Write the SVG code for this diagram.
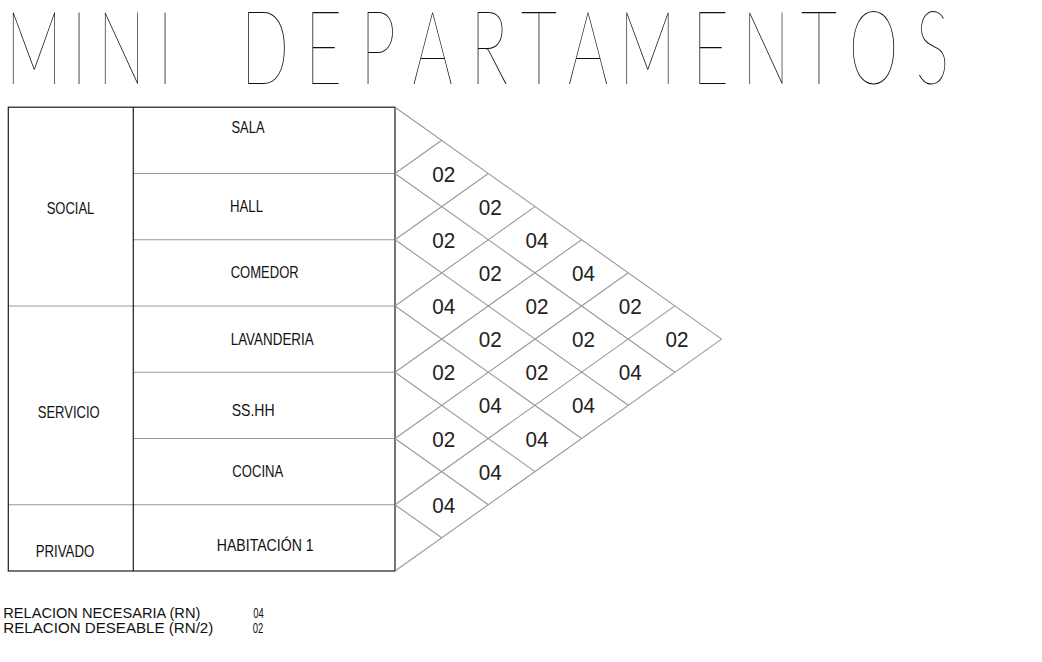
<svg xmlns="http://www.w3.org/2000/svg" width="1042" height="662" viewBox="0 0 1042 662">
<style>
.title{font-family:Lato,Inter,Roboto,"Noto Sans","Liberation Sans",sans-serif;font-weight:100;font-size:103px;fill:#111;text-anchor:middle}
.lbl{font-family:"Liberation Sans",Arial,sans-serif;font-size:17px;fill:#111}
.num{font-family:"Liberation Sans",Arial,sans-serif;font-size:22px;fill:#222;text-anchor:middle}
.leg{font-family:"Liberation Sans",Arial,sans-serif;font-size:15px;fill:#111}
.dark{stroke:#1a1a1a;stroke-width:1.2;fill:none}
.grey{stroke:#999;stroke-width:1.1;fill:none}
</style>
<rect width="1042" height="662" fill="#fff"/>
<g id="title">
<text class="title" transform="scale(0.62 1)" y="84.3" x="54.8 127.4 196.0 266.1 330.6 427.4 521.8 609.7 697.6 788.7 869.4 948.4 1044.4 1146.0 1235.5 1321.0 1408.9 1504.0">MINI DEPARTAMENTOS</text>
</g>
<g id="table">
<g id="zone-social">
<line class="grey" x1="8.3" y1="306" x2="395" y2="306"/>
<text class="lbl" x="46.7" y="214.3" textLength="47.6" lengthAdjust="spacingAndGlyphs">SOCIAL</text>
</g>
<g id="zone-servicio">
<line class="grey" x1="8.3" y1="504.7" x2="395" y2="504.7"/>
<text class="lbl" x="37.7" y="418" textLength="62" lengthAdjust="spacingAndGlyphs">SERVICIO</text>
</g>
<g id="zone-privado">
<text class="lbl" x="35.7" y="556.7" textLength="58.6" lengthAdjust="spacingAndGlyphs">PRIVADO</text>
</g>
<g id="room-sala">
<text class="lbl" x="231.5" y="132.7" textLength="33" lengthAdjust="spacingAndGlyphs">SALA</text>
<line class="grey" x1="133.3" y1="173.5" x2="395" y2="173.5"/>
</g>
<g id="room-hall">
<text class="lbl" x="230" y="211.7" textLength="33" lengthAdjust="spacingAndGlyphs">HALL</text>
<line class="grey" x1="133.3" y1="239.7" x2="395" y2="239.7"/>
</g>
<g id="room-comedor">
<text class="lbl" x="230.7" y="278.3" textLength="68" lengthAdjust="spacingAndGlyphs">COMEDOR</text>
</g>
<g id="room-lavanderia">
<text class="lbl" x="230.7" y="345" textLength="83" lengthAdjust="spacingAndGlyphs">LAVANDERIA</text>
<line class="grey" x1="133.3" y1="372.2" x2="395" y2="372.2"/>
</g>
<g id="room-sshh">
<text class="lbl" x="231.7" y="416" textLength="43" lengthAdjust="spacingAndGlyphs">SS.HH</text>
<line class="grey" x1="133.3" y1="438.5" x2="395" y2="438.5"/>
</g>
<g id="room-cocina">
<text class="lbl" x="232.3" y="477.3" textLength="51" lengthAdjust="spacingAndGlyphs">COCINA</text>
</g>
<g id="room-habitacion">
<text class="lbl" x="216.7" y="550.7" textLength="97" lengthAdjust="spacingAndGlyphs">HABITACIÓN  1</text>
</g>
<rect class="dark" x="8.3" y="107.2" width="386.7" height="463.8"/>
<line class="dark" x1="133.3" y1="107.2" x2="133.3" y2="571"/>
</g>
<g id="connectors" class="grey">
<line x1="395" y1="107.2" x2="721.6" y2="339.1"/>
<line x1="395" y1="173.5" x2="674.9" y2="372.2"/>
<line x1="395" y1="239.7" x2="628.3" y2="405.3"/>
<line x1="395" y1="306" x2="581.6" y2="438.5"/>
<line x1="395" y1="372.2" x2="535" y2="471.6"/>
<line x1="395" y1="438.5" x2="488.3" y2="504.7"/>
<line x1="395" y1="504.7" x2="441.7" y2="537.8"/>
<line x1="395" y1="173.5" x2="441.7" y2="140.3"/>
<line x1="395" y1="239.7" x2="488.3" y2="173.5"/>
<line x1="395" y1="306" x2="535" y2="206.6"/>
<line x1="395" y1="372.2" x2="581.6" y2="239.7"/>
<line x1="395" y1="438.5" x2="628.3" y2="272.8"/>
<line x1="395" y1="504.7" x2="674.9" y2="305.9"/>
<line x1="395" y1="571" x2="721.6" y2="339.1"/>
</g>
<g id="values">
<text class="num" x="443.7" y="181.5" textLength="23" lengthAdjust="spacingAndGlyphs">02</text>
<text class="num" x="443.7" y="247.7" textLength="23" lengthAdjust="spacingAndGlyphs">02</text>
<text class="num" x="443.7" y="314" textLength="23" lengthAdjust="spacingAndGlyphs">04</text>
<text class="num" x="443.7" y="380.2" textLength="23" lengthAdjust="spacingAndGlyphs">02</text>
<text class="num" x="443.7" y="446.5" textLength="23" lengthAdjust="spacingAndGlyphs">02</text>
<text class="num" x="443.7" y="512.7" textLength="23" lengthAdjust="spacingAndGlyphs">04</text>
<text class="num" x="490.3" y="214.6" textLength="23" lengthAdjust="spacingAndGlyphs">02</text>
<text class="num" x="490.3" y="280.8" textLength="23" lengthAdjust="spacingAndGlyphs">02</text>
<text class="num" x="490.3" y="347.1" textLength="23" lengthAdjust="spacingAndGlyphs">02</text>
<text class="num" x="490.3" y="413.3" textLength="23" lengthAdjust="spacingAndGlyphs">04</text>
<text class="num" x="490.3" y="479.6" textLength="23" lengthAdjust="spacingAndGlyphs">04</text>
<text class="num" x="537" y="247.7" textLength="23" lengthAdjust="spacingAndGlyphs">04</text>
<text class="num" x="537" y="314" textLength="23" lengthAdjust="spacingAndGlyphs">02</text>
<text class="num" x="537" y="380.2" textLength="23" lengthAdjust="spacingAndGlyphs">02</text>
<text class="num" x="537" y="446.5" textLength="23" lengthAdjust="spacingAndGlyphs">04</text>
<text class="num" x="583.6" y="280.8" textLength="23" lengthAdjust="spacingAndGlyphs">04</text>
<text class="num" x="583.6" y="347.1" textLength="23" lengthAdjust="spacingAndGlyphs">02</text>
<text class="num" x="583.6" y="413.3" textLength="23" lengthAdjust="spacingAndGlyphs">04</text>
<text class="num" x="630.3" y="314" textLength="23" lengthAdjust="spacingAndGlyphs">02</text>
<text class="num" x="630.3" y="380.2" textLength="23" lengthAdjust="spacingAndGlyphs">04</text>
<text class="num" x="676.9" y="347.1" textLength="23" lengthAdjust="spacingAndGlyphs">02</text>
</g>
<g id="legend">
<text class="leg" x="3.3" y="618.3" textLength="197" lengthAdjust="spacingAndGlyphs">RELACION  NECESARIA  (RN)</text>
<text class="leg" x="253.3" y="618.3" textLength="10.5" lengthAdjust="spacingAndGlyphs">04</text>
<text class="leg" x="3.3" y="632.7" textLength="210" lengthAdjust="spacingAndGlyphs">RELACION  DESEABLE  (RN/2)</text>
<text class="leg" x="252.7" y="632.7" textLength="10.6" lengthAdjust="spacingAndGlyphs">02</text>
</g>
</svg>
